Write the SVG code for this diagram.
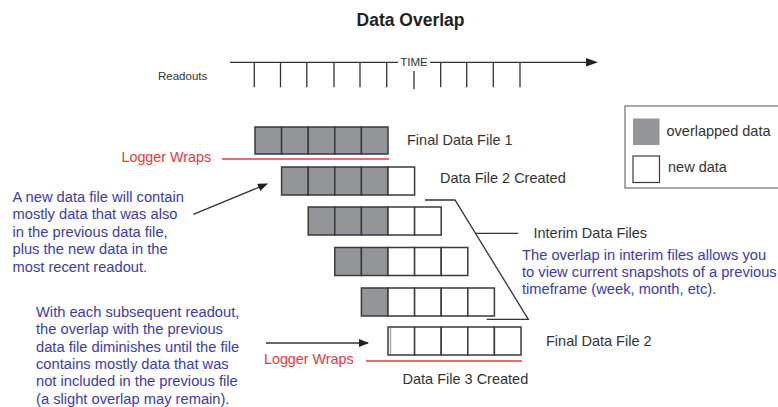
<svg xmlns="http://www.w3.org/2000/svg" width="778" height="407" viewBox="0 0 778 407">
<defs>
<style>
text{font-family:"Liberation Sans",Arial,sans-serif;}
.title{font-size:17.5px;font-weight:bold;fill:#222;text-anchor:middle;}
.lbl{font-size:14.5px;fill:#333;}
.sm{font-size:11.5px;fill:#333;}
.red{font-size:14.3px;fill:#e8383d;}
.blue{font-size:14.7px;fill:#3c3ca6;}
.g{fill:#939598;stroke:#3a3a3a;stroke-width:1.5;}
.w{fill:#fff;stroke:#3a3a3a;stroke-width:1.5;}
.ln{stroke:#333;stroke-width:1.3;fill:none;}
.rl{stroke:#e8383d;stroke-width:1.3;fill:none;}
</style>
<marker id="ah" markerWidth="10" markerHeight="8" refX="9" refY="4" orient="auto" markerUnits="userSpaceOnUse">
<path d="M0,0 L10,4 L0,8 Z" fill="#222"/>
</marker>
</defs>
<rect width="778" height="407" fill="#fff"/>
<text class="title" x="410.5" y="26">Data Overlap</text>

<g id="timeline">
<text class="sm" x="158" y="80">Readouts</text>
<path class="ln" d="M230,62.3 H398 M430,62.3 H588" />
<path d="M586,58 L598,62.3 L586,66.6 Z" fill="#222"/>
<text class="sm" x="414" y="65.5" text-anchor="middle">TIME</text>
<path class="ln" d="M254.3,62.3 V87.3 M280.5,62.3 V87.3 M306.8,62.3 V87.3 M334,62.3 V87.3 M360,62.3 V87.3 M386.7,62.3 V87.3 M414,71 V89.3 M440.7,62.3 V87.3 M466.7,62.3 V87.3 M493.3,62.3 V87.3 M520,62.3 V87.3"/>
</g>

<g id="file1">
<rect class="g" x="255" y="127" width="26.6" height="27"/>
<rect class="g" x="281.6" y="127" width="26.6" height="27"/>
<rect class="g" x="308.2" y="127" width="26.6" height="27"/>
<rect class="g" x="334.8" y="127" width="26.6" height="27"/>
<rect class="g" x="361.4" y="127" width="26.6" height="27"/>
<text class="lbl" x="407" y="144.5">Final Data File 1</text>
</g>

<g id="wrap1">
<text class="red" x="121.5" y="162">Logger Wraps</text>
<path class="rl" d="M222,159 H389"/>
</g>

<g id="file2">
<rect class="g" x="281.6" y="167" width="26.6" height="28"/>
<rect class="g" x="308.2" y="167" width="26.6" height="28"/>
<rect class="g" x="334.8" y="167" width="26.6" height="28"/>
<rect class="g" x="361.4" y="167" width="26.6" height="28"/>
<rect class="w" x="388" y="167" width="26.6" height="28"/>
<text class="lbl" x="440" y="183">Data File 2 Created</text>
</g>

<g id="file3">
<rect class="g" x="308.2" y="207" width="26.6" height="28"/>
<rect class="g" x="334.8" y="207" width="26.6" height="28"/>
<rect class="g" x="361.4" y="207" width="26.6" height="28"/>
<rect class="w" x="388" y="207" width="26.6" height="28"/>
<rect class="w" x="414.6" y="207" width="26.6" height="28"/>
</g>

<g id="file4">
<rect class="g" x="334.8" y="247.5" width="26.6" height="28"/>
<rect class="g" x="361.4" y="247.5" width="26.6" height="28"/>
<rect class="w" x="388" y="247.5" width="26.6" height="28"/>
<rect class="w" x="414.6" y="247.5" width="26.6" height="28"/>
<rect class="w" x="441.2" y="247.5" width="26.6" height="28"/>
</g>

<g id="file5">
<rect class="g" x="361.4" y="288" width="26.6" height="28"/>
<rect class="w" x="388" y="288" width="26.6" height="28"/>
<rect class="w" x="414.6" y="288" width="26.6" height="28"/>
<rect class="w" x="441.2" y="288" width="26.6" height="28"/>
<rect class="w" x="467.8" y="288" width="26.6" height="28"/>
</g>

<g id="file6">
<rect class="w" x="388" y="327" width="26.6" height="28"/>
<rect class="w" x="414.6" y="327" width="26.6" height="28"/>
<rect class="w" x="441.2" y="327" width="26.6" height="28"/>
<rect class="w" x="467.8" y="327" width="26.6" height="28"/>
<rect class="w" x="494.4" y="327" width="26.6" height="28"/>
<path d="M390.5,328 V354" stroke="#aaa" stroke-width="1.5"/>
<text class="lbl" x="546" y="345.5">Final Data File 2</text>
</g>

<g id="wrap2">
<text class="red" x="264" y="363.5">Logger Wraps</text>
<path class="rl" d="M366,361 H522"/>
<text class="lbl" x="402.5" y="383.5">Data File 3 Created</text>
</g>

<g id="interim">
<text class="lbl" x="533.5" y="237.5">Interim Data Files</text>
<text class="blue" x="522" y="260">The overlap in interim files allows you</text>
<text class="blue" x="522" y="277">to view current snapshots of a previous</text>
<text class="blue" x="522" y="294">timeframe (week, month, etc).</text>
</g>

<g id="note1">
<text class="blue" x="12.5" y="201.7">A new data file will contain</text>
<text class="blue" x="12.5" y="219.2">mostly data that was also</text>
<text class="blue" x="12.5" y="236.7">in the previous data file,</text>
<text class="blue" x="12.5" y="254.2">plus the new data in the</text>
<text class="blue" x="12.5" y="271.7">most recent readout.</text>
</g>

<g id="note2">
<text class="blue" x="36" y="317">With each subsequent readout,</text>
<text class="blue" x="36" y="334.3">the overlap with the previous</text>
<text class="blue" x="36" y="351.6">data file diminishes until the file</text>
<text class="blue" x="36" y="368.9">contains mostly data that was</text>
<text class="blue" x="36" y="386.2">not included in the previous file</text>
<text class="blue" x="36" y="403.5">(a slight overlap may remain).</text>
</g>

<g id="legend">
<rect x="625" y="106" width="160" height="82" fill="#fff" stroke="#555" stroke-width="1"/>
<rect x="633" y="118.5" width="26.5" height="26.5" fill="#939598"/>
<rect x="633" y="156" width="26.5" height="26.5" fill="#fff" stroke="#3a3a3a" stroke-width="1.2"/>
<text class="lbl" x="666.5" y="135.5">overlapped data</text>
<text class="lbl" x="668" y="171.5">new data</text>
</g>

<g id="connectors">
<path class="ln" d="M193.3,214.3 L267,184" marker-end="url(#ah)"/>
<path class="ln" d="M266,343 H368" marker-end="url(#ah)"/>
<path class="ln" d="M425,200 H455 L528.3,319.3 H486.7"/>
<path class="ln" d="M475,233.3 H518.3"/>
</g>
</svg>
